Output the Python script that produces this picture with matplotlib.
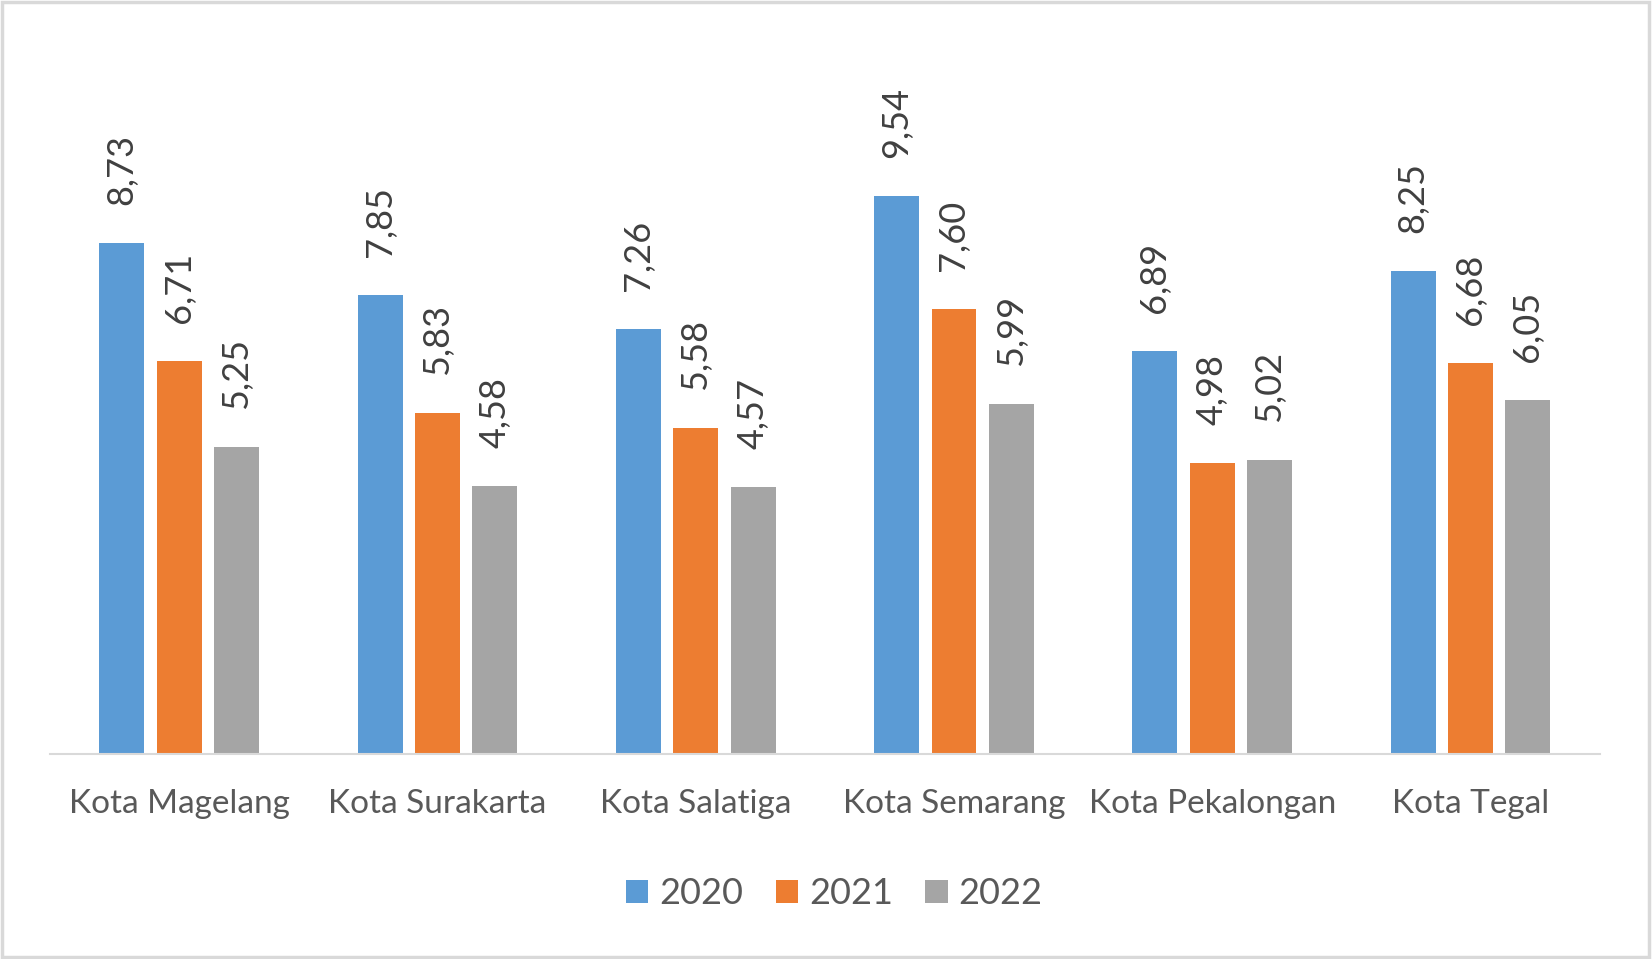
import numpy as np
import matplotlib.pyplot as plt
from matplotlib.patches import Rectangle

# data
categories = ['Kota Magelang', 'Kota Surakarta', 'Kota Salatiga',
              'Kota Semarang', 'Kota Pekalongan', 'Kota Tegal']
years = ['2020', '2021', '2022']
v2020 = [8.73, 7.85, 7.26, 9.54, 6.89, 8.25]
v2021 = [6.71, 5.83, 5.58, 7.60, 4.98, 6.68]
v2022 = [5.25, 4.58, 4.57, 5.99, 5.02, 6.05]

colors = ['#5B9BD5', '#ED7D31', '#A5A5A5']
plt.rcParams['font.family'] = ['Lato', 'DejaVu Sans']

fig = plt.figure(figsize=(16.52, 9.59), dpi=100)
ax = fig.add_axes([0.0303, 0.2138, 0.938, 0.732])

x = np.arange(len(categories))
width = 0.174
step = 0.222
for i, (vals, yr) in enumerate(zip([v2020, v2021, v2022], years)):
    pos = x + (i - 1) * step
    ax.bar(pos, vals, width, color=colors[i], label=yr)
    for px, v in zip(pos, vals):
        ax.annotate(f'{v:.2f}'.replace('.', ','), (px, v),
                    xytext=(0, 38), textcoords='offset pixels',
                    rotation=90, ha='center', va='bottom',
                    fontsize=26, color='#404040')

ax.set_xlim(-0.5, len(categories) - 0.5)
ax.set_ylim(0, 12)
ax.set_xticks(x)
ax.set_xticklabels(categories, fontsize=24, color='#595959')
ax.tick_params(axis='x', length=0, pad=25)
ax.set_yticks([])
for s in ['top', 'right', 'left']:
    ax.spines[s].set_visible(False)
ax.spines['bottom'].set_color('#D9D9D9')
ax.spines['bottom'].set_linewidth(1.5)

leg = fig.legend(loc='center', bbox_to_anchor=(0.505, 0.068), ncol=3,
                 frameon=False, fontsize=26, handlelength=0.62, handleheight=0.62,
                 handletextpad=0.3, columnspacing=0.9)
for t in leg.get_texts():
    t.set_color('#595959')

fig.patches.append(Rectangle((0.001, 0.002), 0.997, 0.996, transform=fig.transFigure,
                             fill=False, edgecolor='#D9D9D9', linewidth=2.5))

fig.savefig('out.png', dpi=100)
